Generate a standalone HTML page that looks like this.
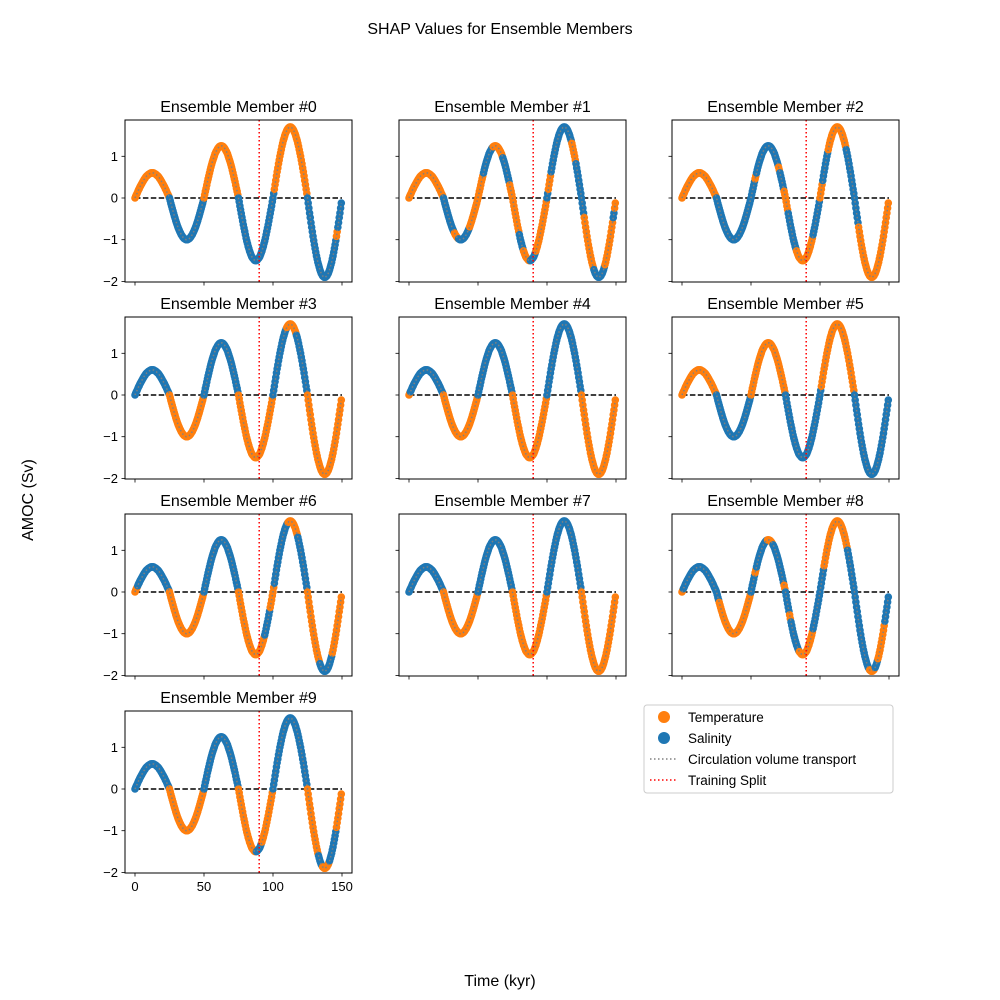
<!DOCTYPE html>
<html><head><meta charset="utf-8">
<style>
html,body{margin:0;padding:0;background:#fff;}
svg{display:block;font-family:"Liberation Sans","DejaVu Sans",sans-serif;}
</style></head>
<body>
<svg id="fig" width="1000" height="1000" viewBox="0 0 1000 1000" xmlns="http://www.w3.org/2000/svg">
<rect width="1000" height="1000" fill="#fff"/>
<text x="500" y="34" text-anchor="middle" font-size="16">SHAP Values for Ensemble Members</text>
<text x="33" y="500" text-anchor="middle" font-size="16" transform="rotate(-90 33 500)">AMOC (Sv)</text>
<text x="500" y="986" text-anchor="middle" font-size="16">Time (kyr)</text>
<g id="panels"></g>
<g>
<rect x="644" y="705" width="249" height="88" rx="3" fill="#fff" stroke="#cccccc" stroke-width="1"/>
<circle cx="664" cy="717" r="6" fill="#ff7f0e"/>
<text x="688" y="722" font-size="13.5">Temperature</text>
<circle cx="664" cy="738" r="6" fill="#1f77b4"/>
<text x="688" y="743" font-size="13.5">Salinity</text>
<line x1="650" y1="759" x2="678" y2="759" stroke="#808080" stroke-width="1.5" stroke-dasharray="1.5,2.5"/>
<text x="688" y="764" font-size="13.5">Circulation volume transport</text>
<line x1="650" y1="780" x2="678" y2="780" stroke="#ff0000" stroke-width="1.5" stroke-dasharray="1.5,2.5"/>
<text x="688" y="785" font-size="13.5">Training Split</text>
</g>
</svg>
<script>
const timeStep = 0.5;
const amoc = [
0,.04,.08,.11,.15,.19,.22,.26,.29,.32,.35,.38,.41,.44,.46,.49,.51,.53,.54,.56,.57,.58,.59,.60,.60,.60,.60,.60,.59,.58,.57,.56,.54,.53,.51,.49,.46,.44,.41,.38,.35,.32,.29,.26,.22,.19,.15,.11,.08,.04,
0,-.06,-.13,-.19,-.25,-.31,-.37,-.43,-.48,-.54,-.59,-.64,-.69,-.73,-.77,-.81,-.84,-.88,-.90,-.93,-.95,-.97,-.98,-.99,-1,-1,-1,-.99,-.98,-.97,-.95,-.93,-.90,-.88,-.84,-.81,-.77,-.73,-.69,-.64,-.59,-.54,-.48,-.43,-.37,-.31,-.25,-.19,-.13,-.06,
0,.08,.16,.23,.31,.39,.46,.53,.60,.67,.74,.80,.86,.91,.96,1.01,1.06,1.10,1.13,1.16,1.19,1.21,1.23,1.24,1.25,1.25,1.25,1.24,1.23,1.21,1.19,1.16,1.13,1.10,1.06,1.01,.96,.91,.86,.80,.74,.67,.60,.53,.46,.39,.31,.23,.16,.08,
0,-.09,-.19,-.28,-.37,-.46,-.55,-.64,-.72,-.80,-.88,-.96,-1.03,-1.09,-1.16,-1.21,-1.27,-1.31,-1.36,-1.40,-1.43,-1.45,-1.47,-1.49,-1.50,-1.50,-1.50,-1.49,-1.47,-1.45,-1.43,-1.40,-1.36,-1.31,-1.27,-1.21,-1.16,-1.09,-1.03,-.96,-.88,-.80,-.72,-.64,-.55,-.46,-.37,-.28,-.19,-.09,
0,.11,.21,.32,.42,.53,.63,.72,.82,.91,1.0,1.08,1.16,1.24,1.31,1.38,1.43,1.49,1.54,1.58,1.62,1.65,1.67,1.69,1.70,1.70,1.70,1.69,1.67,1.65,1.62,1.58,1.54,1.49,1.43,1.38,1.31,1.24,1.16,1.08,1.0,.91,.82,.72,.63,.53,.42,.32,.21,.11,
0,-.12,-.24,-.36,-.47,-.59,-.70,-.81,-.92,-1.02,-1.12,-1.21,-1.30,-1.39,-1.46,-1.54,-1.60,-1.66,-1.72,-1.77,-1.81,-1.84,-1.87,-1.88,-1.90,-1.90,-1.90,-1.88,-1.87,-1.84,-1.81,-1.77,-1.72,-1.66,-1.60,-1.54,-1.46,-1.39,-1.30,-1.21,-1.12,-1.02,-.92,-.81,-.70,-.59,-.47,-.36,-.24,-.12
];
// colour switch points per member: [time, 'T' (temperature) | 'S' (salinity)]
const runs0 = [[0,'T'],[25,'S'],[50,'T'],[75,'S'],[101,'T'],[125,'S'],[146,'T'],[147,'S']];
const runs1 = [[0,'T'],[25,'S'],[33,'T'],[36,'S'],[44,'T'],[54,'S'],[61,'T'],[68,'S'],[73,'T'],[80,'S'],[83,'T'],[88,'S'],[92,'T'],[100,'S'],[101,'T'],[103,'S'],[118,'T'],[121,'S'],[127,'T'],[134,'S'],[142,'T'],[148,'S'],[149,'T']];
const runs2 = [[0,'T'],[25,'S'],[53,'T'],[54,'S'],[70,'T'],[71,'S'],[74,'T'],[77,'S'],[83,'T'],[95,'S'],[100,'T'],[102,'S'],[106,'T'],[119,'S'],[128,'T']];
const runs3 = [[0,'S'],[25,'T'],[50,'S'],[75,'T'],[100,'S'],[110,'T'],[117,'S'],[125,'T']];
const runs4 = [[0,'T'],[1,'S'],[25,'T'],[50,'S'],[75,'T'],[100,'S'],[125,'T']];
const runs5 = [[0,'T'],[25,'S'],[50,'T'],[75,'S'],[101,'T'],[125,'S']];
const runs6 = [[0,'T'],[2,'S'],[25,'T'],[50,'S'],[75,'T'],[94,'S'],[98,'T'],[101,'S'],[111,'T'],[118,'S'],[125,'T'],[134,'S'],[143,'T']];
const runs7 = [[0,'S'],[25,'T'],[50,'S'],[75,'T'],[100,'S'],[125,'T']];
const runs8 = [[0,'T'],[1,'S'],[27,'T'],[50,'S'],[53,'T'],[54,'S'],[62,'T'],[66,'S'],[74,'T'],[75,'S'],[78,'T'],[79,'S'],[85,'T'],[95,'S'],[103,'T'],[120,'S'],[136,'T'],[140,'S'],[142,'T'],[147,'S']];
const runs9 = [[0,'S'],[25,'T'],[50,'S'],[75,'T'],[88,'S'],[92,'T'],[100,'S'],[125,'T'],[133,'S'],[136,'T'],[141,'S'],[146,'T']];
const memberRuns = [runs0,runs1,runs2,runs3,runs4,runs5,runs6,runs7,runs8,runs9];
const xTicks = [0,50,100,150];
const yTicks = [1,0,-1,-2];
const splitTime = 90;

const NS = 'http://www.w3.org/2000/svg';
const root = document.getElementById('panels');
const colLeft = [125,399,672], rowTop = [120,317,514,711];
const W = 227, H = 162;
function mk(tag, attrs, parent){ const e=document.createElementNS(NS,tag); for(const k in attrs) e.setAttribute(k,attrs[k]); parent.appendChild(e); return e; }
function colorAt(runs,t){ let c='S'; for(const r of runs){ if(t>=r[0]) c=r[1]; } return c==='T'?'#ff7f0e':'#1f77b4'; }

for(let m=0;m<10;m++){
  const r=Math.floor(m/3), c=m%3;
  const L=colLeft[c], T=rowTop[r];
  const sx=t=>L+10+t*1.38;
  const sy=v=>T+78-v*41.7;
  const g=mk('g',{},root);
  
  
  const title=mk('text',{x:L+W/2,y:T-8,'text-anchor':'middle','font-size':'16'},g);
  
  
  title.textContent='Ensemble Member #'+m;
  const clipId='clip'+m;
  const cp=mk('clipPath',{id:clipId},g); mk('rect',{x:L,y:T,width:W,height:H},cp);
  const plot=mk('g',{'clip-path':'url(#'+clipId+')'},g);
  const zl=mk('line',{x1:sx(0),x2:sx(150),y1:sy(0),y2:sy(0),stroke:'#000','stroke-width':1.5,'stroke-dasharray':'5.5,2.4'},plot);
  
  
  const runs=memberRuns[m];
  for(let i=0;i<amoc.length;i++){
    const t=i*timeStep;
    const p=mk('circle',{cx:sx(t),cy:sy(amoc[i]),r:3.8,fill:colorAt(runs,t)},plot);
    
    
  }
  let d='';
  for(let i=0;i<amoc.length;i++) d+=(i?'L':'M')+sx(i*timeStep).toFixed(2)+' '+sy(amoc[i]).toFixed(2);
  const ln=mk('path',{d:d,fill:'none',stroke:'#808080','stroke-width':1.5,'stroke-dasharray':'1.5,2.5'},plot);
  
  
  const sp=mk('line',{x1:sx(splitTime),x2:sx(splitTime),y1:T,y2:T+H,stroke:'#ff0000','stroke-width':1.5,'stroke-dasharray':'1.5,2.5'},plot);
  
  
  const fr=mk('rect',{x:L,y:T,width:W,height:H,fill:'none',stroke:'#000','stroke-width':1},g);
  
  
  for(const v of yTicks){
    mk('line',{x1:L-3.5,x2:L,y1:sy(v),y2:sy(v),stroke:'#000','stroke-width':0.8},g);
    if(c===0){
      const tl=mk('text',{x:L-7,y:sy(v)+4.5,'text-anchor':'end','font-size':'13'},g);
      
      
      tl.textContent=v<0?'\u2212'+(-v):String(v);
    }
  }
  for(const v of xTicks){
    mk('line',{x1:sx(v),x2:sx(v),y1:T+H,y2:T+H+3.5,stroke:'#000','stroke-width':0.8},g);
    if(m===9){
      const tl=mk('text',{x:sx(v),y:T+H+18,'text-anchor':'middle','font-size':'13'},g);
      
      
      tl.textContent=String(v);
    }
  }
}
</script>
</body></html>
